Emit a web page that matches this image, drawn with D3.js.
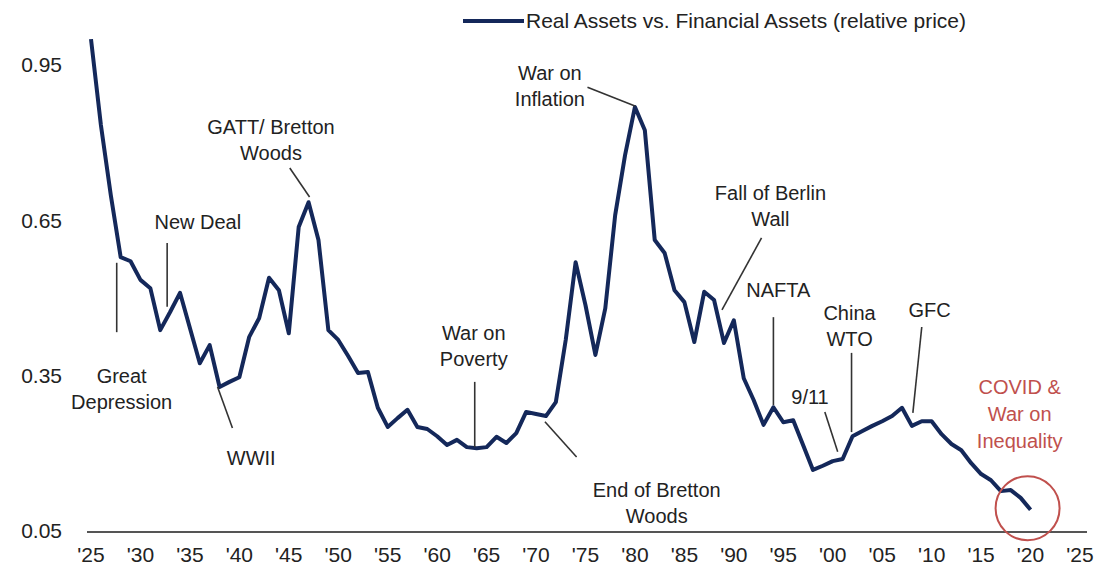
<!DOCTYPE html>
<meta charset="utf-8">
<head>
  <script src="https://cdn.jsdelivr.net/npm/d3@7"></script>
</head>
<style>
  body { margin: 0; background: #fff; }
  text { font-family: "Liberation Sans", Arial, sans-serif; fill: #222; }
</style>
<body>
<div id="chart"></div>
<script>
// years and relative price
var years = [1925, 1926, 1927, 1928, 1929, 1930, 1931, 1932, 1933, 1934,
  1935, 1936, 1937, 1938, 1939, 1940, 1941, 1942, 1943, 1944,
  1945, 1946, 1947, 1948, 1949, 1950, 1951, 1952, 1953, 1954,
  1955, 1956, 1957, 1958, 1959, 1960, 1961, 1962, 1963, 1964,
  1965, 1966, 1967, 1968, 1969, 1970, 1971, 1972, 1973, 1974,
  1975, 1976, 1977, 1978, 1979, 1980, 1981, 1982, 1983, 1984,
  1985, 1986, 1987, 1988, 1989, 1990, 1991, 1992, 1993, 1994,
  1995, 1996, 1997, 1998, 1999, 2000, 2001, 2002, 2003, 2004,
  2005, 2006, 2007, 2008, 2009, 2010, 2011, 2012, 2013, 2014,
  2015, 2016, 2017, 2018, 2019, 2020];
var values = [1.00, 0.834, 0.699, 0.579, 0.571, 0.535, 0.519, 0.438, 0.473, 0.510,
  0.442, 0.374, 0.409, 0.328, 0.338, 0.347, 0.425, 0.461, 0.539, 0.515,
  0.432, 0.637, 0.685, 0.612, 0.438, 0.419, 0.388, 0.355, 0.357, 0.288,
  0.251, 0.268, 0.284, 0.251, 0.247, 0.233, 0.216, 0.226, 0.212, 0.210,
  0.212, 0.232, 0.220, 0.239, 0.280, 0.276, 0.272, 0.299, 0.419, 0.569,
  0.486, 0.390, 0.480, 0.660, 0.776, 0.869, 0.824, 0.612, 0.587, 0.515,
  0.492, 0.415, 0.512, 0.496, 0.413, 0.457, 0.345, 0.303, 0.255, 0.289,
  0.260, 0.264, 0.216, 0.168, 0.176, 0.185, 0.189, 0.233, 0.243, 0.253,
  0.262, 0.272, 0.288, 0.253, 0.262, 0.262, 0.237, 0.218, 0.206, 0.181,
  0.160, 0.148, 0.127, 0.129, 0.114, 0.091];

var yTicks = [0.05, 0.35, 0.65, 0.95];
var xTicks = [1925, 1930, 1935, 1940, 1945, 1950, 1955, 1960, 1965, 1970, 1975,
  1980, 1985, 1990, 1995, 2000, 2005, 2010, 2015, 2020, 2025];

var seriesName = "Real Assets vs. Financial Assets (relative price)";

// event labels: text lines, text spot (year, value), pointer from/to
var eventLabels = [
  ["Great", "Depression"],
  ["New Deal"],
  ["GATT/ Bretton", "Woods"],
  ["WWII"],
  ["War on", "Poverty"],
  ["End of Bretton", "Woods"],
  ["War on", "Inflation"],
  ["Fall of Berlin", "Wall"],
  ["NAFTA"],
  ["9/11"],
  ["China", "WTO"],
  ["GFC"],
  ["COVID &", "War on", "Inequality"]
];
var eventTextAt = [
  [1928.1, 0.349], [1935.8, 0.647], [1943.2, 0.830], [1941.2, 0.191],
  [1963.7, 0.432], [1982.2, 0.129], [1971.4, 0.935], [1993.7, 0.703],
  [1994.5, 0.515], [1997.7, 0.309], [2001.7, 0.471], [2009.8, 0.477],
  [2018.9, 0.328]
];
var eventPointer = [
  [1927.6, 0.568, 1927.6, 0.434],
  [1932.7, 0.606, 1932.7, 0.483],
  [1945.1, 0.751, 1947.1, 0.695],
  [1937.8, 0.328, 1939.3, 0.249],
  [1963.8, 0.338, 1963.8, 0.212],
  [1970.9, 0.261, 1974.1, 0.193],
  [1975.2, 0.907, 1980.0, 0.871],
  [1992.8, 0.616, 1988.8, 0.477],
  [1994.0, 0.463, 1994.0, 0.293],
  [1999.2, 0.280, 2000.5, 0.203],
  [2001.9, 0.394, 2001.9, 0.241],
  [2009.0, 0.444, 2008.1, 0.278],
  null
];
var circleAt = [2019.7, 0.094];

var width = 1109, height = 570;
var lineColor = "#14285a", red = "#c0504d";

var svg = d3.select("#chart").append("svg")
  .attr("width", width)
  .attr("height", height);

var x = d3.scaleLinear().domain([1925, 2025]).range([91, 1080]);
var y = d3.scaleLinear().domain([0.05, 0.95]).range([531, 65]);

// baseline
svg.append("line")
  .attr("x1", x(1925) - 4).attr("x2", x(2025) + 7)
  .attr("y1", y(0.05) + 1).attr("y2", y(0.05) + 1)
  .attr("stroke", "#555").attr("stroke-width", 2);

// y labels
svg.append("g").selectAll("text")
  .data(yTicks).enter().append("text")
  .attr("x", 62)
  .attr("y", function(d) { return y(d); })
  .attr("dy", "0.35em")
  .attr("text-anchor", "end")
  .style("font-size", "21px")
  .text(function(d) { return d3.format(".2f")(d); });

// x labels
svg.append("g").selectAll("text")
  .data(xTicks).enter().append("text")
  .attr("x", function(d) { return x(d); })
  .attr("y", 555)
  .attr("dy", "0.35em")
  .attr("text-anchor", "middle")
  .style("font-size", "21px")
  .text(function(d) { return "'" + String(d).slice(2); });

// the series
var pts = years.map(function(yr, i) { return [yr, values[i]]; });
svg.append("path")
  .datum(pts)
  .attr("fill", "none")
  .attr("stroke", lineColor)
  .attr("stroke-width", 4)
  .attr("stroke-linejoin", "round")
  .attr("d", d3.line()
    .x(function(d) { return x(d[0]); })
    .y(function(d) { return y(d[1]); }));

// event pointers
eventPointer.forEach(function(p) {
  if (!p) return;
  svg.append("line")
    .attr("x1", x(p[0])).attr("y1", y(p[1]))
    .attr("x2", x(p[2])).attr("y2", y(p[3]))
    .attr("stroke", "#333").attr("stroke-width", 1.6);
});

// event texts
eventLabels.forEach(function(lines, i) {
  var at = eventTextAt[i];
  var isRed = i === eventLabels.length - 1;
  var t = svg.append("text")
    .attr("text-anchor", "middle")
    .style("font-size", "20px")
    .style("fill", isRed ? red : "#222");
  lines.forEach(function(s, k) {
    t.append("tspan")
      .attr("x", x(at[0]))
      .attr("y", y(at[1]))
      .attr("dy", (0.35 + k * (isRed ? 1.35 : 1.3)) + "em")
      .text(s);
  });
});

svg.append("circle")
  .attr("cx", x(circleAt[0]))
  .attr("cy", y(circleAt[1]))
  .attr("r", 32)
  .attr("fill", "none")
  .attr("stroke", red)
  .attr("stroke-width", 2);

// legend
svg.append("line")
  .attr("x1", 463).attr("x2", 524)
  .attr("y1", 21).attr("y2", 21)
  .attr("stroke", lineColor).attr("stroke-width", 4);
svg.append("text")
  .attr("x", 526).attr("y", 21)
  .attr("dy", "0.35em")
  .style("font-size", "21px")
  .text(seriesName);
</script>
</body>
